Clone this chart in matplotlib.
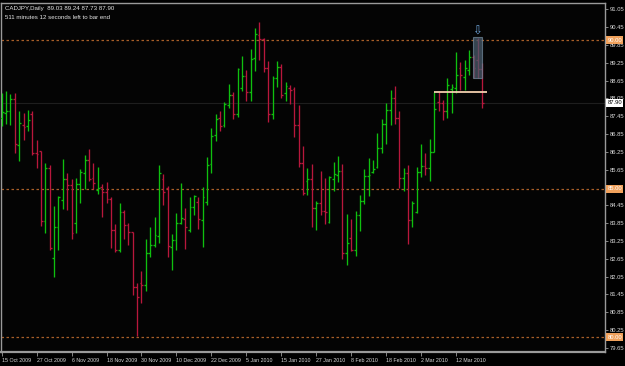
import numpy as np
import pandas as pd
import matplotlib
matplotlib.use('Agg')
import matplotlib.pyplot as plt
from matplotlib.patches import Rectangle

# CADJPY daily bars, 15 Oct 2009 - 22 Mar 2010
dates = pd.bdate_range('2009-10-15', '2010-03-22')
dates = dates[~dates.isin(pd.to_datetime(['2009-12-25', '2010-01-01']))]

opens = [87.39, 87.57, 87.61, 88.02, 86.47, 87.15, 87.12, 87.51, 86.22, 86.27,
         83.91, 85.70, 82.68, 83.72, 84.63, 85.33, 85.12, 83.86, 85.16, 85.53,
         85.98, 85.37, 84.97, 85.08, 84.90, 84.67, 83.62, 82.95, 84.24, 83.79,
         83.54, 81.69, 81.82, 81.77, 82.83, 83.11, 83.42, 85.33, 85.03, 83.06,
         83.28, 83.84, 84.00, 83.62, 84.39, 84.57, 83.96, 84.57, 85.83, 86.82,
         87.40, 87.15, 87.83, 88.16, 87.51, 88.40, 88.80, 88.26, 89.40, 90.19,
         90.05, 89.06, 87.53, 88.74, 89.12, 88.23, 88.39, 88.36, 87.15, 85.88,
         85.27, 85.34, 84.35, 84.52, 84.27, 83.90, 85.34, 85.47, 85.61, 82.83,
         83.35, 82.95, 84.12, 84.61, 85.44, 85.57, 85.73, 86.37, 87.19, 87.66,
         88.05, 87.38, 85.36, 85.53, 83.96, 84.24, 85.56, 85.77, 85.70, 86.26,
         87.94, 87.88, 87.64, 88.37, 88.39, 89.06, 88.78, 89.01, 89.45, 89.34,
         89.03]
highs = [88.24, 88.30, 88.20, 88.24, 87.64, 87.55, 87.66, 87.64, 86.65, 86.28,
         85.86, 85.81, 84.43, 84.76, 86.01, 85.53, 85.34, 85.38, 85.66, 86.14,
         86.35, 85.88, 85.73, 85.16, 85.25, 84.74, 83.82, 84.52, 84.29, 83.84,
         83.56, 81.82, 82.25, 83.32, 83.73, 84.07, 85.81, 85.50, 85.10, 83.48,
         84.18, 85.19, 84.37, 84.74, 84.80, 84.74, 85.06, 86.09, 87.04, 87.51,
         87.63, 87.92, 88.52, 88.27, 89.06, 89.49, 89.01, 89.70, 90.41, 90.63,
         90.09, 89.31, 88.80, 89.32, 89.20, 88.61, 88.50, 88.43, 87.83, 86.45,
         85.70, 85.84, 84.59, 85.61, 85.36, 85.44, 85.90, 86.11, 85.84, 84.16,
         83.99, 84.26, 84.80, 85.66, 86.03, 85.98, 86.87, 87.35, 87.88, 88.33,
         88.47, 87.64, 85.70, 85.81, 84.61, 85.73, 86.51, 86.20, 86.67, 88.28,
         88.27, 88.00, 88.73, 88.53, 89.62, 89.29, 89.34, 89.68, 89.51, 90.08,
         89.24]
lows = [87.13, 87.20, 87.15, 86.20, 85.94, 86.65, 86.96, 86.14, 85.70, 83.75,
        83.53, 82.95, 82.03, 82.95, 84.33, 84.29, 83.31, 83.51, 84.52, 84.99,
        85.27, 84.99, 84.83, 84.07, 84.54, 83.00, 82.89, 82.89, 83.31, 83.11,
        81.43, 80.05, 81.17, 81.57, 82.72, 83.06, 83.19, 84.46, 82.72, 82.27,
        82.95, 83.82, 82.97, 83.56, 84.12, 83.65, 83.06, 84.46, 85.55, 86.61,
        86.95, 87.10, 87.74, 87.36, 87.43, 88.30, 87.96, 87.96, 88.97, 89.34,
        88.93, 87.26, 87.36, 88.44, 88.07, 87.96, 87.85, 86.76, 85.75, 84.80,
        84.80, 83.71, 83.62, 84.12, 83.82, 83.86, 84.94, 85.25, 82.63, 82.44,
        82.92, 82.75, 83.59, 84.49, 84.76, 85.53, 85.70, 86.20, 86.51, 87.15,
        87.19, 85.02, 84.94, 83.15, 83.71, 84.20, 85.41, 85.47, 85.28, 86.24,
        87.64, 87.32, 87.38, 87.55, 88.22, 88.33, 88.33, 88.84, 88.73, 88.74,
        87.73]
closes = [87.59, 87.63, 88.02, 86.51, 87.21, 87.10, 87.32, 86.22, 86.19, 83.93,
          85.70, 83.00, 83.72, 84.72, 85.33, 85.12, 83.51, 85.16, 85.56, 85.98,
          85.33, 85.20, 85.03, 84.90, 84.67, 83.62, 82.95, 84.24, 83.79, 83.55,
          81.69, 81.35, 81.77, 82.83, 83.11, 83.45, 85.53, 84.90, 83.08, 83.28,
          83.84, 84.01, 83.71, 84.40, 84.76, 83.98, 84.72, 85.82, 86.79, 87.36,
          87.13, 87.85, 88.16, 87.51, 89.04, 88.80, 88.26, 89.38, 90.21, 90.05,
          89.07, 87.53, 88.74, 89.12, 88.16, 88.47, 88.33, 87.15, 85.88, 84.85,
          85.35, 84.35, 84.54, 84.27, 84.24, 85.41, 85.49, 85.61, 82.83, 83.19,
          82.95, 84.12, 84.61, 85.44, 85.47, 85.66, 86.37, 87.19, 87.66, 88.05,
          87.38, 85.36, 85.53, 83.96, 84.52, 85.56, 85.77, 85.70, 86.26, 87.68,
          87.88, 87.64, 88.50, 88.43, 88.84, 88.84, 89.06, 89.45, 89.06, 89.04,
          87.90]

price_ticks = ['91.05', '90.45', '89.85', '89.25', '88.65', '88.05', '87.45', '86.85',
               '86.25', '85.65', '84.45', '83.85', '83.25', '82.65', '82.05', '81.45',
               '80.85', '80.25', '79.65']
level_lines = [90.00, 85.00, 80.00]
bid = 87.90
date_labels = ['15 Oct 2009', '27 Oct 2009', '6 Nov 2009', '18 Nov 2009', '30 Nov 2009',
               '10 Dec 2009', '22 Dec 2009', '5 Jan 2010', '15 Jan 2010', '27 Jan 2010',
               '8 Feb 2010', '18 Feb 2010', '2 Mar 2010', '12 Mar 2010']
resistance = 88.28          # horizontal line drawn from the 5 Mar high
box_top, box_bottom = 90.11, 88.73

o = np.array(opens); h = np.array(highs); l = np.array(lows); c = np.array(closes)
x = np.arange(len(o))
up = c >= o
green = '#0fbf0f'
red = '#b8173c'
colors = np.where(up, green, red)

fig = plt.figure(figsize=(6.25, 3.66), dpi=100, facecolor='black')
ax = fig.add_axes([1/625, 14/366, 604/625, 349/366], facecolor='#040404')
ax.set_xlim(-0.16, 138.1)
ax.set_ylim(79.51, 91.26)

# level lines
for lv in level_lines:
    ax.axhline(lv, color='#a85e28', lw=0.9, ls=(0, (2, 2)), zorder=1)
ax.axhline(bid, color='#1e1e1e', lw=0.8, zorder=1)

# OHLC bars
tk = 0.42
ax.vlines(x, l, h, colors=colors, lw=0.95, zorder=3)
ax.hlines(o, x - tk, x, colors=colors, lw=0.95, zorder=3)
ax.hlines(c, x, x + tk, colors=colors, lw=0.95, zorder=3)

# drawn objects
i_mar5 = list(dates).index(pd.Timestamp('2010-03-05'))
i_mar18 = list(dates).index(pd.Timestamp('2010-03-18'))
ax.hlines(resistance, i_mar5, len(x), colors='#f3cfae', lw=1.3, zorder=4)
ax.add_patch(Rectangle((i_mar18 - 0.05, box_bottom), 1.95, box_top - box_bottom,
                       facecolor='#4a5d6e', edgecolor='#71879a', lw=0.8, alpha=0.72, zorder=5))
ax.text(i_mar18 + 0.9, 90.31, '\u21e9', color='#6fa6dc', fontsize=8.5,
        ha='center', va='center', family='DejaVu Sans', zorder=6)

# axes styling
for s in ax.spines.values():
    s.set_color('#9a9a9a')
    s.set_linewidth(1.0)
ax.spines['bottom'].set_linewidth(1.6)

ax.yaxis.tick_right()
ax.set_yticks([float(t) for t in price_ticks])
ax.set_yticklabels(price_ticks)
ax.tick_params(axis='y', colors='#9a9a9a', labelcolor='#d8d8d8', length=2,
               width=0.6, pad=1.5, labelsize=4.2)

idx = [list(dates).index(pd.to_datetime(d, format='%d %b %Y')) for d in date_labels]
ax.set_xticks(idx)
ax.set_xticklabels(date_labels)
ax.tick_params(axis='x', colors='#9a9a9a', labelcolor='#d8d8d8', length=3,
               width=0.6, pad=1.2, labelsize=3.75)
for lab in ax.get_xticklabels():
    lab.set_horizontalalignment('left')
for lab in ax.get_xticklabels() + ax.get_yticklabels():
    lab.set_family('Liberation Sans')

# price markers on the right scale
tr = ax.get_yaxis_transform()
for lv in level_lines:
    ax.text(1.004, lv, f'{lv:.2f}', transform=tr, fontsize=4.2, color='white',
            va='center', ha='left', family='Liberation Sans', clip_on=False, zorder=7,
            bbox=dict(boxstyle='square,pad=0.25', fc='#f0a15c', ec='none'))
ax.text(1.004, bid, f'{bid:.2f}', transform=tr, fontsize=4.2, color='black',
        va='center', ha='left', family='Liberation Sans', clip_on=False, zorder=7,
        bbox=dict(boxstyle='square,pad=0.25', fc='white', ec='none'))

# header
hdr = f'CADJPY,Daily  {o[-1]:.2f} {h[-1]:.2f} {l[-1]:.2f} {c[-1]:.2f}'
ax.text(0.006, 0.992, hdr, transform=ax.transAxes, fontsize=4.4, color='#e6e6e6',
        va='top', ha='left', family='Liberation Sans')
ax.text(0.006, 0.967, '511 minutes 12 seconds left to bar end', transform=ax.transAxes,
        fontsize=4.4, color='#e6e6e6', va='top', ha='left', family='Liberation Sans')

fig.savefig('out.png', dpi=100, facecolor='black')
